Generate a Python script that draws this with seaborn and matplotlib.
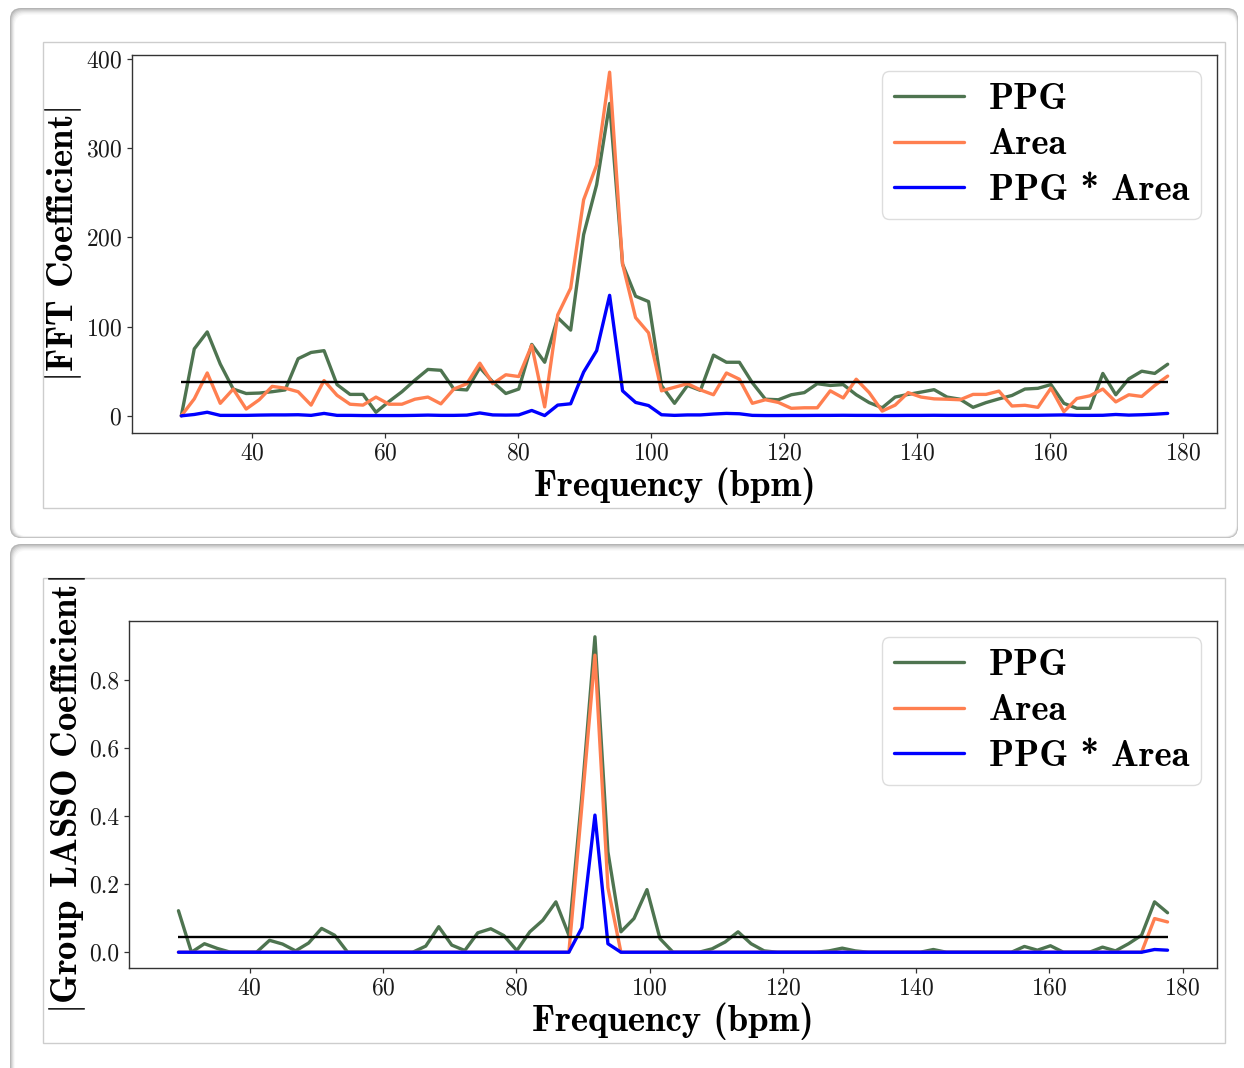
import matplotlib
matplotlib.use("Agg")
import numpy as np
import pandas as pd
import matplotlib.pyplot as plt
import seaborn as sns
from matplotlib.patches import FancyBboxPatch, Rectangle
from matplotlib.font_manager import FontProperties

# Frequency bins (bpm)
freq_bpm = [29.30, 31.25, 33.20, 35.16, 37.11, 39.06, 41.02, 42.97, 44.92, 46.88,
            48.83, 50.78, 52.73, 54.69, 56.64, 58.59, 60.55, 62.50, 64.45, 66.41,
            68.36, 70.31, 72.27, 74.22, 76.17, 78.13, 80.08, 82.03, 83.98, 85.94,
            87.89, 89.84, 91.80, 93.75, 95.70, 97.66, 99.61, 101.56, 103.52, 105.47,
            107.42, 109.38, 111.33, 113.28, 115.23, 117.19, 119.14, 121.09, 123.05, 125.00,
            126.95, 128.91, 130.86, 132.81, 134.77, 136.72, 138.67, 140.63, 142.58, 144.53,
            146.48, 148.44, 150.39, 152.34, 154.30, 156.25, 158.20, 160.16, 162.11, 164.06,
            166.02, 167.97, 169.92, 171.88, 173.83, 175.78, 177.73]

# |FFT coefficient| per signal
fft_ppg = [0, 75, 94, 58, 30, 25, 25.5, 27, 29, 64,
           71, 73, 35, 24, 24, 4, 16, 27, 40, 52,
           51, 30, 29, 54, 38, 25, 30, 80, 60, 110,
           96, 203, 259, 350, 170, 134, 128, 34, 14, 34,
           28.5, 68, 60, 60, 37, 18.6, 18, 23.6, 26, 36,
           34, 35, 23.6, 14.8, 9, 21, 24, 26.6, 29.3, 21,
           18.6, 9.5, 14.8, 19, 22.8, 30, 30.8, 35, 14, 8.4,
           8.4, 47.5, 23.6, 41.4, 50, 47.5, 57.8]
fft_area = [0, 19, 48, 14, 30, 7.6, 18, 33, 31, 27,
            12, 39.5, 23, 13, 12, 21, 13, 13, 18.6, 21,
            13.4, 30, 36, 59, 36, 46, 44, 79, 10, 113,
            143, 242, 281, 385, 170, 110, 93, 28, 32, 36,
            29, 23.6, 48, 41, 14, 18, 15, 8.4, 9, 9,
            28, 20, 41, 26, 5.3, 12, 26, 21, 19, 18.6,
            18, 24, 24, 27.7, 11, 11.8, 9.5, 31, 4.6, 19.4,
            22.4, 30, 15.6, 23.6, 21.7, 34, 44.5]
fft_prod = [0, 1.5, 4, 0.5, 0.5, 0.5, 0.8, 1, 1, 1.2,
            0.5, 2.7, 0.5, 0.5, 0.3, 0.3, 0.3, 0.3, 0.5, 0.8,
            0.5, 0.5, 0.8, 3.2, 1, 0.8, 1, 6, 0.3, 12,
            13.5, 49, 73, 135, 28, 15, 11.5, 1.2, 0.5, 1,
            1, 2, 2.7, 2.3, 0.5, 0.3, 0.3, 0.4, 0.4, 0.5,
            0.5, 0.6, 0.5, 0.5, 0.4, 0.4, 0.5, 0.5, 0.6, 0.5,
            0.5, 0.5, 0.5, 0.5, 0.5, 0.6, 0.6, 0.8, 1, 0.5,
            0.5, 0.6, 1.5, 0.8, 1.2, 1.8, 2.7]

# |Group LASSO coefficient| per signal
lasso_ppg = [0.122, 0, 0.025, 0.011, 0, 0, 0, 0.035, 0.024, 0.004,
             0.027, 0.07, 0.05, 0, 0, 0, 0, 0, 0, 0.018,
             0.075, 0.021, 0.005, 0.057, 0.069, 0.049, 0.005, 0.06, 0.094, 0.148,
             0.05, 0.46, 0.927, 0.295, 0.06, 0.099, 0.184, 0.04, 0, 0,
             0, 0.01, 0.03, 0.06, 0.025, 0.004, 0, 0, 0, 0,
             0.004, 0.012, 0.004, 0, 0, 0, 0, 0, 0.008, 0,
             0, 0, 0, 0, 0, 0.017, 0.006, 0.019, 0, 0,
             0, 0.015, 0.004, 0.025, 0.05, 0.148, 0.116]
lasso_area = [0, 0, 0, 0, 0, 0, 0, 0, 0, 0,
              0, 0, 0, 0, 0, 0, 0, 0, 0, 0,
              0, 0, 0, 0, 0, 0, 0, 0, 0, 0,
              0, 0.43, 0.873, 0.19, 0, 0, 0, 0, 0, 0,
              0, 0, 0, 0, 0, 0, 0, 0, 0, 0,
              0, 0, 0, 0, 0, 0, 0, 0, 0, 0,
              0, 0, 0, 0, 0, 0, 0, 0, 0, 0,
              0, 0, 0, 0, 0, 0.099, 0.089]
lasso_prod = [0, 0, 0, 0, 0, 0, 0, 0, 0, 0,
              0, 0, 0, 0, 0, 0, 0, 0, 0, 0,
              0, 0, 0, 0, 0, 0, 0, 0, 0, 0,
              0, 0.072, 0.403, 0.025, 0, 0, 0, 0, 0, 0,
              0, 0, 0, 0, 0, 0, 0, 0, 0, 0,
              0, 0, 0, 0, 0, 0, 0, 0, 0, 0,
              0, 0, 0, 0, 0, 0, 0, 0, 0, 0,
              0, 0, 0, 0, 0, 0.008, 0.006]

series_names = ["PPG", "Area", "PPG * Area"]
series_colors = ["#4e7450", "#ff7f50", "#0000ff"]
fft_threshold = 38.0
lasso_threshold = 0.044

sns.set_style("ticks")
plt.rcParams.update({
    "font.family": ["cmr10", "DejaVu Serif"],
    "mathtext.fontset": "cm",
    "axes.formatter.use_mathtext": True,
    "axes.unicode_minus": False,
    "text.color": "black",
    "axes.labelcolor": "black",
    "axes.edgecolor": "#333333",
    "axes.linewidth": 1.0,
    "xtick.major.size": 3.5,
    "ytick.major.size": 3.5,
    "xtick.major.width": 0.9,
    "ytick.major.width": 0.9,
    "xtick.color": "#333333",
    "ytick.color": "#333333",
    "xtick.labelcolor": "#1a1a1a",
    "ytick.labelcolor": "#1a1a1a",
    "xtick.labelsize": 17,
    "ytick.labelsize": 17,
})

W, H = 1244, 1068
fig = plt.figure(figsize=(W / 100, H / 100), dpi=100)
fig.patch.set_facecolor("white")


def inch_box(x0, y0, x1, y1):
    """Pixel box (top-left origin) -> (x, y, w, h) in inches from bottom-left."""
    return x0 / 100, (H - y1) / 100, (x1 - x0) / 100, (y1 - y0) / 100


def draw_card(x0, y0, x1, y1):
    shades = ["#b4b4b4", "#c6c6c6", "#d6d6d6", "#e4e4e4", "#f0f0f0", "#f8f8f8", "#ffffff"]
    for i, c in enumerate(shades):
        bx = inch_box(x0 + i * 0.8, y0 + i * 1.1, x1 - i * 0.3, y1 - i * 0.35)
        fig.add_artist(FancyBboxPatch(
            (bx[0], bx[1]), bx[2], bx[3],
            boxstyle="round,pad=0,rounding_size=0.11",
            transform=fig.dpi_scale_trans, facecolor=c, edgecolor="none",
            zorder=-10 + i * 0.1))


def draw_frame(x0, y0, x1, y1):
    bx = inch_box(x0, y0, x1, y1)
    fig.add_artist(Rectangle((bx[0], bx[1]), bx[2], bx[3],
                             transform=fig.dpi_scale_trans, facecolor="white",
                             edgecolor="#cdcdcd", linewidth=1.0, zorder=-5))


draw_card(10, 8, 1238, 538)
draw_card(10, 544, 1270, 1090)
draw_frame(43, 42, 1225, 508)
draw_frame(43, 578, 1225, 1043)

label_font = FontProperties(family="cmb10", size=26.5)
legend_font = FontProperties(family="cmb10", size=26.5)


def draw_panel(ax, series, threshold, ylabel):
    for values, name, color in zip(series, series_names, series_colors):
        sns.lineplot(x=freq_bpm, y=values, color=color, linewidth=2.4,
                     ax=ax, legend=False)
    ax.hlines(threshold, freq_bpm[0], freq_bpm[-1], color="black", linewidth=1.7)
    ax.set_xlabel("Frequency (bpm)", fontproperties=label_font, labelpad=2)
    ax.set_ylabel(ylabel, fontproperties=label_font, labelpad=1)
    ax.set_xticks([40, 60, 80, 100, 120, 140, 160, 180])
    leg = ax.legend(ax.lines[:3], series_names, loc="upper right", prop=legend_font,
                    handlelength=1.9, handletextpad=0.68, labelspacing=0.34,
                    borderaxespad=0.44, borderpad=0.32, fancybox=True,
                    framealpha=0.8, edgecolor="#d5d5d5")
    leg.get_frame().set_linewidth(1.0)
    for h in leg.get_lines():
        h.set_linewidth(2.4)


ax_fft = fig.add_axes([132 / W, 1 - 433 / H, 1085 / W, 378 / H])
draw_panel(ax_fft, [fft_ppg, fft_area, fft_prod], fft_threshold,
           r"$|$FFT Coefficient$|$")
ax_fft.set_yticks([0, 100, 200, 300, 400])

ax_lasso = fig.add_axes([129 / W, 1 - 968 / H, 1088 / W, 347 / H])
draw_panel(ax_lasso, [lasso_ppg, lasso_area, lasso_prod], lasso_threshold,
           r"$|$Group LASSO Coefficient$|$")
ax_lasso.set_yticks([0.0, 0.2, 0.4, 0.6, 0.8])
ax_lasso.set_yticklabels(["0.0", "0.2", "0.4", "0.6", "0.8"])

fig.savefig("out.png", dpi=100, facecolor="white")
